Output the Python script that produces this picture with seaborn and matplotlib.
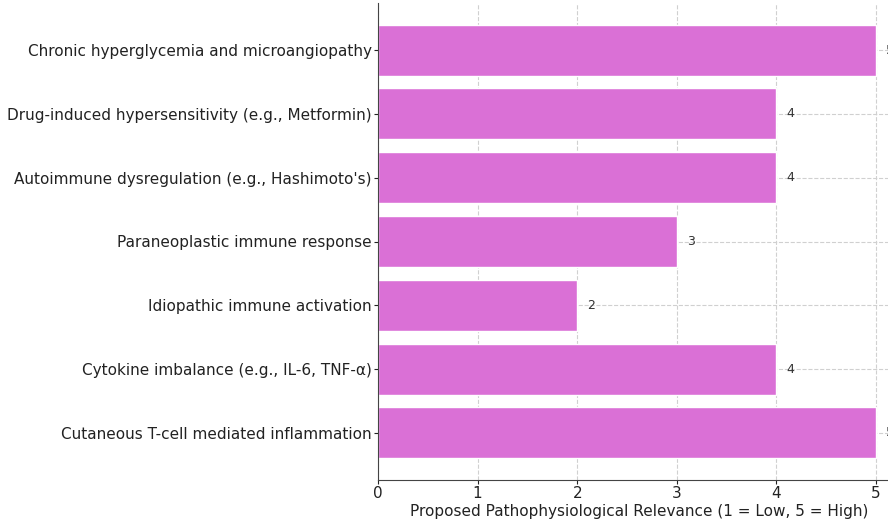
import pandas as pd
import seaborn as sns
import matplotlib.pyplot as plt

# datos del grafico
mecanismos = [
    "Chronic hyperglycemia and microangiopathy",
    "Drug-induced hypersensitivity (e.g., Metformin)",
    "Autoimmune dysregulation (e.g., Hashimoto's)",
    "Paraneoplastic immune response",
    "Idiopathic immune activation",
    "Cytokine imbalance (e.g., IL-6, TNF-α)",
    "Cutaneous T-cell mediated inflammation",
]
relevancia = [5, 4, 4, 3, 2, 4, 5]

df = pd.DataFrame({"Mecanismo": mecanismos, "Relevancia": relevancia})

sns.set_style("whitegrid", {"grid.linestyle": "--", "grid.color": "#d0d0d0",
                            "axes.edgecolor": "#444444",
                            "xtick.bottom": True, "ytick.left": True})
plt.rcParams['font.family'] = ['DejaVu Sans']

fig = plt.figure(figsize=(8.88, 5.23), dpi=100)
# el eje se sale un poco por la derecha, como en la imagen recortada
ax = fig.add_axes([378 / 888, 43 / 523, 523 / 888, 477 / 523])

sns.barplot(data=df, y="Mecanismo", x="Relevancia", color="orchid",
            saturation=1, width=0.8, ax=ax, orient="h")

for i, v in enumerate(relevancia):
    ax.text(v + 0.1, i, str(v), va="center", ha="left", fontsize=9, color="#333333")

ax.set_xlim(0, 5.25)
ax.set_ylim(6.74, -0.74)
ax.set_ylabel("")
ax.set_xlabel("Proposed Pathophysiological Relevance (1 = Low, 5 = High)", fontsize=11,
              color="#222222", labelpad=2)
ax.tick_params(axis="both", labelsize=11, colors="#222222", length=3, pad=1.5)
ax.grid(True, axis="both", linestyle="--", color="#d0d0d0", linewidth=0.8)
ax.spines["top"].set_visible(False)
ax.spines["right"].set_visible(False)
ax.set_axisbelow(True)

plt.savefig("out.png", dpi=100)
